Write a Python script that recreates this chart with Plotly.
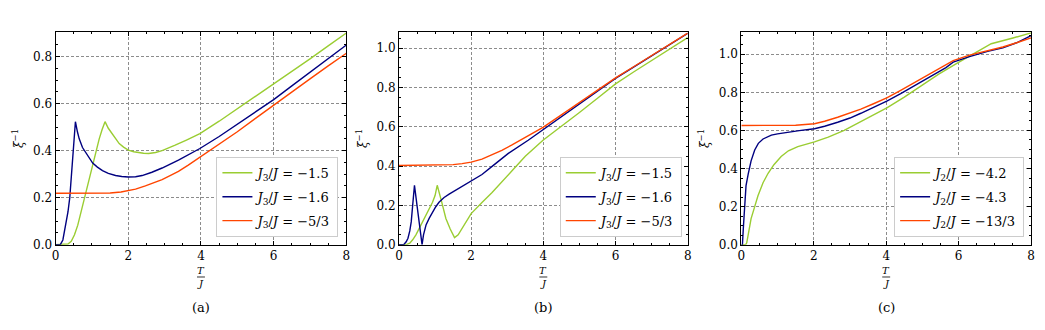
import plotly.graph_objects as go

# ---------------- data ----------------
# Panel (a)
a_green_x = [0, 0.3, 0.34, 0.43, 0.52, 0.61, 0.7, 0.81, 0.9, 1.02, 1.1, 1.2, 1.28, 1.36, 1.45, 1.56, 1.65, 1.75, 1.87, 2.0, 2.15, 2.29, 2.42, 2.56, 2.75, 2.93, 3.1, 3.29, 3.6, 3.97, 4.5, 5, 5.5, 6, 6.5, 7, 7.5, 8]
a_green_y = [0, 0, 0.003, 0.014, 0.042, 0.083, 0.14, 0.208, 0.27, 0.347, 0.395, 0.45, 0.49, 0.523, 0.495, 0.472, 0.452, 0.43, 0.415, 0.402, 0.395, 0.391, 0.389, 0.388, 0.392, 0.4, 0.41, 0.423, 0.445, 0.472, 0.525, 0.578, 0.63, 0.682, 0.737, 0.79, 0.845, 0.9]
a_blue_x = [0, 0.13, 0.2, 0.245, 0.3, 0.34, 0.39, 0.43, 0.49, 0.545, 0.6, 0.65, 0.74, 0.84, 0.93, 1.02, 1.15, 1.29, 1.45, 1.65, 1.82, 2.0, 2.2, 2.38, 2.65, 2.93, 3.38, 3.97, 4.5, 5, 5.5, 6, 6.5, 7, 7.5, 8]
a_blue_y = [0, 0, 0.02, 0.055, 0.1, 0.139, 0.2, 0.277, 0.416, 0.523, 0.48, 0.45, 0.413, 0.388, 0.366, 0.347, 0.33, 0.315, 0.303, 0.294, 0.29, 0.288, 0.289, 0.294, 0.308, 0.326, 0.36, 0.409, 0.46, 0.512, 0.565, 0.617, 0.675, 0.733, 0.79, 0.849]
a_red_x = [0, 1.5, 1.8, 2.0, 2.2, 2.47, 2.7, 2.93, 3.15, 3.38, 3.65, 3.97, 4.5, 5, 5.5, 6, 6.5, 7, 7.5, 8]
a_red_y = [0.219, 0.22, 0.224, 0.229, 0.236, 0.25, 0.262, 0.277, 0.294, 0.312, 0.338, 0.372, 0.425, 0.48, 0.537, 0.594, 0.65, 0.705, 0.76, 0.814]

# Panel (b)
b_green_x = [0, 0.2, 0.3, 0.38, 0.47, 0.6, 0.75, 0.93, 1.0, 1.06, 1.18, 1.3, 1.42, 1.54, 1.64, 1.75, 2.0, 2.3, 2.58, 3.12, 3.5, 3.99, 4.5, 5, 5.5, 6, 6.5, 7, 7.5, 8]
b_green_y = [0, 0, 0.008, 0.025, 0.05, 0.095, 0.149, 0.216, 0.25, 0.302, 0.22, 0.133, 0.08, 0.036, 0.05, 0.083, 0.158, 0.215, 0.265, 0.373, 0.45, 0.531, 0.6, 0.672, 0.745, 0.818, 0.878, 0.937, 0.995, 1.053]
b_blue_x = [0, 0.13, 0.2, 0.25, 0.3, 0.34, 0.38, 0.43, 0.5, 0.57, 0.64, 0.68, 0.75, 0.84, 0.93, 1.02, 1.11, 1.25, 1.39, 1.55, 1.75, 2.0, 2.3, 2.58, 3.03, 3.58, 3.99, 4.5, 5, 5.5, 6, 6.5, 7, 7.5, 8]
b_blue_y = [0, 0, 0.015, 0.033, 0.07, 0.116, 0.2, 0.302, 0.2, 0.1, 0, 0.05, 0.1, 0.135, 0.166, 0.193, 0.216, 0.24, 0.257, 0.275, 0.294, 0.323, 0.357, 0.398, 0.464, 0.531, 0.585, 0.65, 0.715, 0.78, 0.846, 0.903, 0.96, 1.018, 1.075]
b_red_x = [0, 1.2, 1.5, 1.75, 2.0, 2.3, 2.58, 2.85, 3.12, 3.35, 3.58, 3.99, 4.5, 5, 5.5, 6, 6.5, 7, 7.5, 8]
b_red_y = [0.403, 0.404, 0.407, 0.412, 0.42, 0.435, 0.456, 0.48, 0.506, 0.53, 0.556, 0.597, 0.66, 0.722, 0.785, 0.848, 0.905, 0.962, 1.019, 1.076]

# Panel (c)
c_green_x = [0, 0.12, 0.15, 0.2, 0.27, 0.37, 0.46, 0.6, 0.74, 0.9, 1.1, 1.3, 1.56, 2.02, 2.4, 2.84, 3.4, 4.03, 4.5, 4.94, 5.45, 5.95, 6.31, 6.9, 7.5, 8]
c_green_y = [0, 0, 0.01, 0.06, 0.137, 0.2, 0.257, 0.325, 0.375, 0.42, 0.463, 0.493, 0.515, 0.54, 0.565, 0.6, 0.655, 0.72, 0.775, 0.832, 0.895, 0.952, 0.99, 1.055, 1.085, 1.112]
c_blue_x = [0, 0.03, 0.06, 0.09, 0.13, 0.19, 0.27, 0.37, 0.47, 0.6, 0.83, 1.0, 1.29, 1.6, 2.02, 2.3, 2.66, 3.0, 3.3, 3.65, 4.03, 4.4, 4.76, 5.1, 5.4, 5.65, 5.85, 6.3, 6.8, 7.22, 7.6, 8]
c_blue_y = [0, 0, 0.1, 0.22, 0.31, 0.37, 0.44, 0.497, 0.532, 0.555, 0.575, 0.582, 0.592, 0.599, 0.609, 0.622, 0.643, 0.665, 0.69, 0.72, 0.755, 0.793, 0.832, 0.868, 0.9, 0.93, 0.958, 0.987, 1.015, 1.033, 1.06, 1.098]
c_red_x = [0, 1.5, 2.02, 2.3, 2.66, 3.0, 3.3, 3.65, 4.03, 4.4, 4.76, 5.1, 5.4, 5.65, 5.85, 6.3, 6.8, 7.22, 7.6, 8]
c_red_y = [0.626, 0.627, 0.635, 0.648, 0.669, 0.69, 0.712, 0.74, 0.772, 0.81, 0.849, 0.885, 0.918, 0.945, 0.966, 0.995, 1.018, 1.038, 1.06, 1.086]

labels_a = ["<i>J</i><sub>3</sub>/<i>J</i> = −1.5", "<i>J</i><sub>3</sub>/<i>J</i> = −1.6", "<i>J</i><sub>3</sub>/<i>J</i> = −5/3"]
labels_b = labels_a
labels_c = ["<i>J</i><sub>2</sub>/<i>J</i> = −4.2", "<i>J</i><sub>2</sub>/<i>J</i> = −4.3", "<i>J</i><sub>2</sub>/<i>J</i> = −13/3"]
panel_captions = ["(a)", "(b)", "(c)"]
y_max = [0.903, 1.08, 1.115]

colors = ["#9ACD32", "#000080", "#FF4500"]
FONT = "DejaVu Serif"

fig = go.Figure()

panels = [
    [(a_green_x, a_green_y), (a_blue_x, a_blue_y), (a_red_x, a_red_y)],
    [(b_green_x, b_green_y), (b_blue_x, b_blue_y), (b_red_x, b_red_y)],
    [(c_green_x, c_green_y), (c_blue_x, c_blue_y), (c_red_x, c_red_y)],
]
labels = [labels_a, labels_b, labels_c]

W, H = 1045, 330
x_doms = [(52 / W, 345 / W), (398 / W, 689 / W), (743 / W, 1035 / W)]
y_dom = ((330 - 250) / H, (330 - 33) / H)
legend_right = [337 / W, 683 / W, 1028 / W]

for p in range(3):
    suffix = "" if p == 0 else str(p + 1)
    for s in range(3):
        xs, ys = panels[p][s]
        fig.add_trace(go.Scatter(
            x=xs, y=ys, mode="lines", name=labels[p][s],
            line=dict(color=colors[s], width=1.4),
            xaxis="x" + suffix, yaxis="y" + suffix,
            legend="legend" + suffix, legendgroup=f"p{p}s{s}",
        ))

layout = dict(
    width=W, height=H,
    margin=dict(l=0, r=0, t=0, b=0),
    paper_bgcolor="white", plot_bgcolor="white",
    font=dict(family=FONT, size=12, color="black"),
    showlegend=True,
)

grid_style = dict(showgrid=True, gridcolor="#8c8c8c", griddash="3px,2px", gridwidth=0.7)
for p in range(3):
    suffix = "" if p == 0 else str(p + 1)
    layout["xaxis" + suffix] = dict(
        domain=list(x_doms[p]), anchor="y" + suffix, range=[0, 8],
        tickmode="linear", tick0=0, dtick=2, ticks="inside", ticklen=4,
        tickcolor="black", showline=True, linecolor="black", linewidth=1,
        mirror="allticks", zeroline=False,
        minor=dict(ticks="inside", ticklen=2, dtick=0.5, tickcolor="black", showgrid=False),
        tickfont=dict(size=12), **grid_style,
    )
    layout["yaxis" + suffix] = dict(
        domain=list(y_dom), anchor="x" + suffix, range=[0, y_max[p]],
        tickmode="linear", tick0=0, dtick=0.2, tickformat=".1f", ticks="inside", ticklen=4,
        tickcolor="black", showline=True, linecolor="black", linewidth=1,
        mirror="allticks", zeroline=False,
        minor=dict(ticks="inside", ticklen=2, dtick=0.05, tickcolor="black", showgrid=False),
        tickfont=dict(size=12),
        title=dict(text="<i>ξ</i><sup>−1</sup>", font=dict(size=12), standoff=6),
        **grid_style,
    )
    layout["legend" + suffix] = dict(
        x=legend_right[p], y=(330 - 242) / H, xanchor="right", yanchor="bottom",
        bgcolor="white", bordercolor="#cccccc", borderwidth=1,
        font=dict(size=13), itemwidth=30, tracegroupgap=4,
    )

fig.update_layout(**layout)

annotations = []
shapes = []
for p in range(3):
    xc = (x_doms[p][0] + x_doms[p][1]) / 2
    annotations.append(dict(text="<i>T</i>", x=xc, y=(330 - 276) / H, xref="paper", yref="paper",
                            showarrow=False, font=dict(size=10), xanchor="center", yanchor="middle"))
    annotations.append(dict(text="<i>J</i>", x=xc, y=(330 - 290) / H, xref="paper", yref="paper",
                            showarrow=False, font=dict(size=10), xanchor="center", yanchor="middle"))
    shapes.append(dict(type="line", xref="paper", yref="paper",
                       x0=xc - 4 / W, x1=xc + 4 / W, y0=(330 - 283) / H, y1=(330 - 283) / H,
                       line=dict(color="black", width=0.8)))
    annotations.append(dict(text=panel_captions[p], x=xc, y=(330 - 314) / H, xref="paper", yref="paper",
                            showarrow=False, font=dict(size=13), xanchor="center", yanchor="middle"))

fig.update_layout(annotations=annotations, shapes=shapes)

fig.write_html("out.html")
